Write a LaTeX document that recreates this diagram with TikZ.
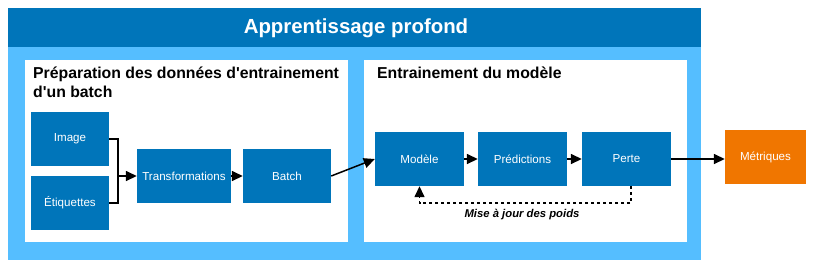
\documentclass[tikz,border=0pt]{standalone}
\usepackage{fontspec}
\setmainfont{Liberation Sans}
\usetikzlibrary{arrows.meta}
\definecolor{dblue}{RGB}{0,117,186}
\definecolor{lblue}{RGB}{85,190,255}
\definecolor{orng}{RGB}{240,118,0}
\tikzset{
  box/.style={fill=dblue, text=white, minimum width=#1, minimum height=54pt, inner sep=0pt, font=\fontsize{11.6}{14}\selectfont},
  box/.default=89pt,
  conn/.style={line width=1.5pt, draw=black},
  arr/.style={conn, -{Triangle[length=11pt,width=10pt]}},
  ptitle/.style={anchor=base west, inner sep=0pt, font=\bfseries\fontsize{15.8}{18}\selectfont}
}
\begin{document}
\begin{tikzpicture}[x=1pt,y=-1pt]
\useasboundingbox (0,0) rectangle (816,266);
\fill[lblue] (8,8) rectangle (701,260);
\fill[dblue] (8,8) rectangle (701,47);
\node[text=white, font=\bfseries\fontsize{20.4}{24}\selectfont, inner sep=0pt] (title) at (356,28) {Apprentissage profond};
\fill[white] (25,60) rectangle (348,242);
\fill[white] (364,60) rectangle (687,242);
\node[ptitle] (t1) at (33,78) {Préparation des données d\textquotesingle entrainement};
\node[ptitle] (t1b) at (33,97) {d\textquotesingle un batch};
\node[ptitle] (t2) at (377,78) {Entrainement du modèle};

\node[box=78pt] (img) at (70,139) {Image};
\node[box=78pt] (eti) at (70,203) {Étiquettes};
\node[box=94pt] (trans) at (184,176) {Transformations};
\node[box=88pt] (batch) at (287,176) {Batch};
\node[box] (mod) at (419.5,159) {Modèle};
\node[box] (pred) at (522.5,159) {Prédictions};
\node[box] (perte) at (626.5,159) {Perte};
\node[box=81pt, fill=orng] (met) at (765.5,157) {Métriques};

\draw[conn] (img.east) -- ++(9,0) coordinate (j1) |- (eti.east);
\draw[arr] (j1 |- trans.west) -- (trans.west);
\draw[arr] (trans.east) -- (batch.west);
\draw[arr] (batch.east) -- (mod.west);
\draw[arr] (mod.east) -- (pred.west);
\draw[arr] (pred.east) -- (perte.west);
\draw[arr] (perte.east) -- (met.west |- perte.east);
\draw[arr, dashed, dash pattern=on 3pt off 3pt] ([xshift=4.5pt]perte.south) -- ++(0,17) -| (mod.south);
\node[font=\bfseries\itshape\fontsize{11.3}{13}\selectfont, inner sep=0pt] (lbl) at (522,215) {Mise à jour des poids};
\end{tikzpicture}
\end{document}
